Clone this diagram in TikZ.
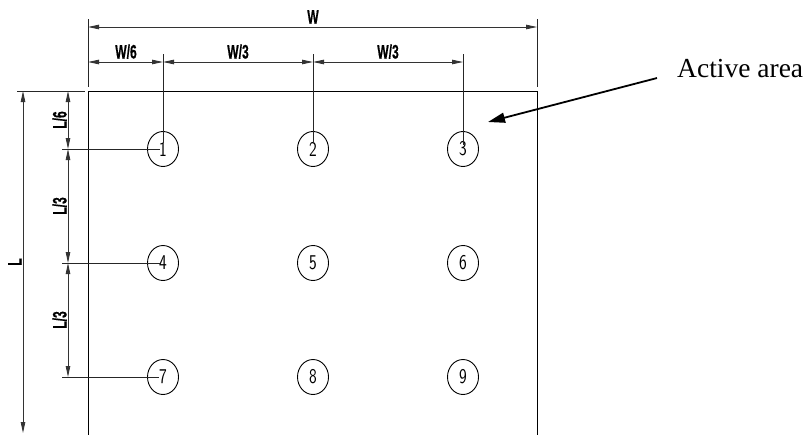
\documentclass[tikz,border=0pt]{standalone}
\usepackage{fontspec}
\setmainfont{Liberation Serif}
\newfontfamily\dimfont{Liberation Sans}[BoldFont={Liberation Sans Bold},BoldFeatures={FakeBold=0.6}]
\usetikzlibrary{arrows.meta,shapes.geometric}
\newcommand{\dimtxt}[1]{\scalebox{0.62}[1]{#1}}
\newcommand{\spotnum}[1]{\scalebox{0.78}[1]{#1}}
\begin{document}
\begin{tikzpicture}[x=1pt,y=-1pt,
  tip/.tip={Triangle[length=11pt,width=4.5pt]},
  dimline/.style={line width=0.8pt, black!80, tip-tip},
  extline/.style={line width=0.8pt, black!85},
  edge/.style={line width=1pt, black},
  spot/.style={ellipse, draw, line width=0.9pt, minimum width=31pt, minimum height=35pt, inner sep=0pt, font=\sffamily\fontsize{21}{21}\selectfont},
  dimlabel/.style={font=\dimfont\bfseries\fontsize{19.5}{19.5}\selectfont, inner sep=0pt, anchor=base},
  pointer/.style={line width=1.8pt, -{Triangle[length=17pt,width=10pt]}}
]
\useasboundingbox (0,0) rectangle (803,434);

% active area outline (open at the bottom)
\coordinate (BL) at (88,436);
\coordinate (TL) at (88,91);
\coordinate (TR) at (537,91);
\coordinate (BR) at (537,436);
\draw[edge] (BL) -- (TL) -- (TR) -- (BR);

% measuring spots
\node[spot] (c1) at (163,149) {\spotnum{1}};
\node[spot] (c2) at (313,149) {\spotnum{2}};
\node[spot] (c3) at (463,149) {\spotnum{3}};
\node[spot] (c4) at (163,263) {\spotnum{4}};
\node[spot] (c5) at (313,263) {\spotnum{5}};
\node[spot] (c6) at (463,263) {\spotnum{6}};
\node[spot] (c7) at (163,377) {\spotnum{7}};
\node[spot] (c8) at (313,377) {\spotnum{8}};
\node[spot] (c9) at (463,377) {\spotnum{9}};

% horizontal dimension anchors
\coordinate (wl) at (88,27);
\coordinate (wr) at (537,27);
\coordinate (wlt) at (88,19);
\coordinate (wrt) at (537,19);
\coordinate (wlb) at (88,87);
\coordinate (wrb) at (537,87);
\coordinate (s0) at (88,62);
\coordinate (s1) at (163,62);
\coordinate (s2) at (313,62);
\coordinate (s3) at (463,62);
\coordinate (e1) at (163,54);
\coordinate (e2) at (313,54);
\coordinate (e3) at (463,54);

% extension lines (top)
\draw[extline] (wlt) -- (wlb);
\draw[extline] (wrt) -- (wrb);
\draw[extline] (e1) -- ([yshift=6pt]c1.center);
\draw[extline] (e2) -- ([yshift=6pt]c2.center);
\draw[extline] (e3) -- ([yshift=4pt]c3.center);

% horizontal dimensions
\draw[dimline] (wl) -- (wr);
\draw[dimline] (s0) -- (s1);
\draw[dimline] (s1) -- (s2);
\draw[dimline] (s2) -- (s3);
\node[dimlabel] (lW) at (313,23.5) {\dimtxt{W}};
\node[dimlabel] (lW6) at (126,58.5) {\dimtxt{W/6}};
\node[dimlabel] (lW3a) at (238,58.5) {\dimtxt{W/3}};
\node[dimlabel] (lW3b) at (388,58.5) {\dimtxt{W/3}};

% vertical dimension anchors
\coordinate (lt) at (23,91);
\coordinate (lb) at (23,433);
\coordinate (tx0) at (17,91);
\coordinate (tx1) at (85,91);
\coordinate (v0) at (68,91);
\coordinate (v1) at (68,149);
\coordinate (v2) at (68,263);
\coordinate (v3) at (68,377);
\coordinate (h1) at (62,149);
\coordinate (h2) at (62,263);
\coordinate (h3) at (62,377);

% extension lines (left)
\draw[extline] (tx0) -- (tx1);
\draw[extline] (h1) -- ([xshift=-3pt]c1.center);
\draw[extline] (h2) -- ([xshift=-3pt]c4.center);
\draw[extline] (h3) -- ([xshift=-4pt]c7.center);

% vertical dimensions
\draw[dimline] (lt) -- (lb);
\draw[dimline] (v0) -- (v1);
\draw[dimline] (v1) -- (v2);
\draw[dimline] (v2) -- (v3);
\node[dimlabel, rotate=90] (lL) at (21.5,262) {\dimtxt{L}};
\node[dimlabel, rotate=90] (lL6) at (66.5,120) {\dimtxt{L/6}};
\node[dimlabel, rotate=90] (lL3a) at (66.5,206) {\dimtxt{L/3}};
\node[dimlabel, rotate=90] (lL3b) at (66.5,320) {\dimtxt{L/3}};

% active area callout
\node[font=\fontsize{27.5}{27.5}\selectfont, inner sep=0pt, anchor=base west] (act) at (677,77) {Active area};
\coordinate (aim) at (488,122);
\draw[pointer] ([shift={(-20pt,-10pt)}]act.west) -- (aim);
\end{tikzpicture}
\end{document}
